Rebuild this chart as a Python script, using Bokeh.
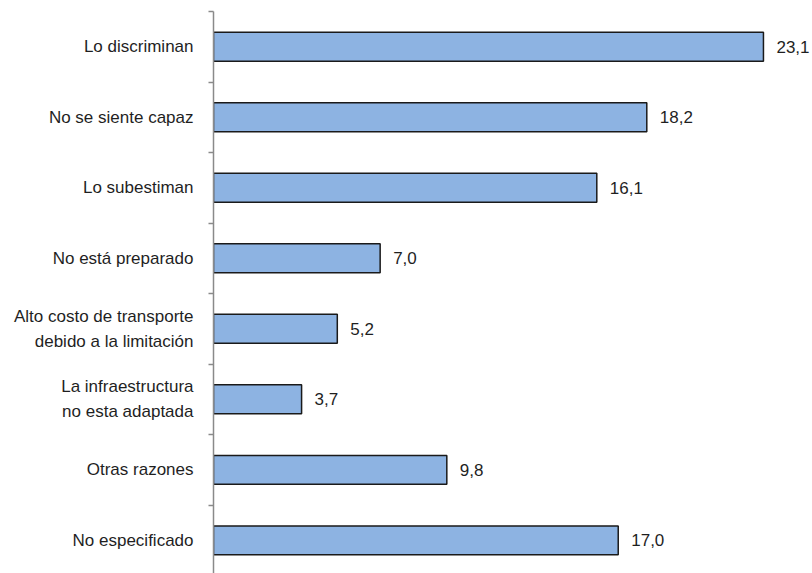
from bokeh.plotting import figure
from bokeh.models import ColumnDataSource, Range1d, FixedTicker
from bokeh.embed import file_html
from bokeh.resources import INLINE
from bokeh.core.properties import value

categories = [
    "Lo discriminan",
    "No se siente capaz",
    "Lo subestiman",
    "No está preparado",
    "Alto costo de transporte\ndebido a la limitación",
    "La infraestructura\nno esta adaptada",
    "Otras razones",
    "No especificado",
]
values = [23.1, 18.2, 16.1, 7.0, 5.2, 3.7, 9.8, 17.0]
value_labels = ["23,1", "18,2", "16,1", "7,0", "5,2", "3,7", "9,8", "17,0"]

pos = list(range(len(categories)))
src = ColumnDataSource(dict(y=pos, v=values, lab=value_labels, zero=[0] * len(pos)))

p = figure(width=812, height=573, output_backend="svg", toolbar_location=None,
           x_range=Range1d(0, 25.16), y_range=Range1d(7.47, -0.5))
p.min_border_left = 213
p.min_border_right = 0
p.min_border_top = 11
p.min_border_bottom = 0
p.outline_line_color = None
p.background_fill_color = "white"
p.xgrid.visible = False
p.ygrid.visible = False
p.xaxis.visible = False

p.hbar(y="y", left="zero", right="v", height=0.41, source=src,
       fill_color="#8DB3E2", line_color="#1a1a1a", line_width=1.5)

p.text(x="v", y="y", text="lab", source=src, x_offset=13,
       text_align="left", text_baseline="middle",
       text_font=value("Liberation Sans"), text_font_size="17px", text_color="#1f1f1f")

ya = p.yaxis[0]
ya.ticker = FixedTicker(ticks=pos, minor_ticks=[i - 0.5 for i in range(len(pos) + 1)])
ya.major_label_overrides = {i: c for i, c in enumerate(categories)}
ya.major_tick_out = 0
ya.major_tick_in = 0
ya.minor_tick_out = 5
ya.minor_tick_in = 0
ya.minor_tick_line_color = "#8a8a8a"
ya.minor_tick_line_width = 1.5
ya.axis_line_color = "#8a8a8a"
ya.axis_line_width = 1.5
ya.major_label_standoff = 15
ya.major_label_text_font = "Liberation Sans"
ya.major_label_text_font_size = "17px"
ya.major_label_text_color = "#1f1f1f"
ya.major_label_text_line_height = 1.3

open("out.html", "w").write(file_html(p, INLINE))
